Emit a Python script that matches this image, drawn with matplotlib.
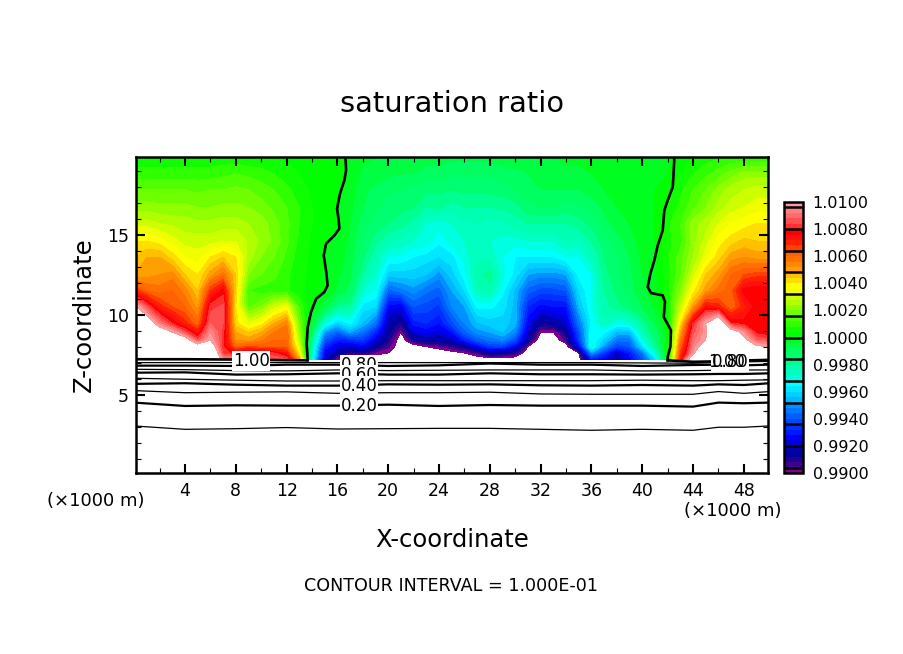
import numpy as np
import matplotlib
matplotlib.use("Agg")
import matplotlib.pyplot as plt
from matplotlib.colors import ListedColormap, BoundaryNorm

W, H = 904, 654

# model levels above cloud base (km), bottom to top
z_levels = [7.2, 7.6, 8.0, 8.4, 8.9, 9.45, 10.5, 11.5, 12.5, 13.6, 14.6, 15.7, 16.7, 17.8, 18.8, 19.85]

# saturation ratio, one column per km: (S - 1) * 1e4
col00 = [125,125,125,125,125,125,105,70,48,44,40,30,22,16,10,4]
col01 = [125,125,125,125,125,112,85,60,50,48,40,30,22,16,10,5]
col02 = [125,125,125,125,112,92,70,58,52,48,38,28,21,16,10,5]
col03 = [125,125,125,120,100,80,64,60,54,42,34,27,21,16,10,5]
col04 = [125,125,125,110,85,70,60,54,44,36,30,26,21,16,10,5]
col05 = [125,125,110,85,72,60,50,44,40,34,30,25,20,15,10,5]
col06 = [125,125,112,100,95,88,82,68,50,40,30,25,20,16,10,5]
col07 = [95,82,80,82,82,84,85,78,58,44,32,26,21,16,11,5]
col08 = [92,78,60,52,48,42,40,42,44,40,32,26,21,17,12,5]
col09 = [92,85,65,50,44,32,15,12,20,26,27,24,20,16,11,4]
col10 = [90,82,62,55,48,38,20,10,16,20,23,22,18,14,10,4]
col11 = [88,80,62,60,56,48,30,10,13,16,19,18,15,12,8,3]
col12 = [85,72,62,60,60,55,35,9,9,11,13,13,12,9,6,3]
col13 = [50,38,32,26,22,18,12,5,5,6,7,8,8,6,4,2]
col14 = [-30,-28,-24,-18,-12,-6,-1,2,3,3,3,4,4,3,2,1]
col15 = [-80,-75,-68,-60,-50,-30,-6,0,-1,0,1,3,2,2,1,1]
col16 = [-100,-85,-78,-70,-58,-42,-18,-5,-3,-2,-1,0,0,0,1,1]
col17 = [-105,-92,-80,-68,-48,-35,-20,-10,-7,-6,-5,-4,-3,-2,-1,0]
col18 = [-105,-90,-75,-65,-55,-45,-38,-28,-20,-15,-12,-10,-8,-7,-5,-3]
col19 = [-105,-98,-85,-78,-68,-55,-40,-32,-28,-24,-18,-14,-11,-9,-6,-4]
col20 = [-105,-100,-95,-90,-86,-84,-74,-58,-42,-32,-24,-16,-14,-11,-7,-4]
col21 = [-105,-105,-105,-105,-100,-90,-76,-54,-42,-33,-25,-18,-15,-12,-8,-5]
col22 = [-105,-105,-105,-90,-78,-70,-60,-50,-42,-36,-28,-22,-16,-13,-8,-5]
col23 = [-105,-105,-100,-85,-75,-68,-62,-55,-44,-38,-30,-28,-20,-15,-10,-6]
col24 = [-105,-105,-97,-85,-78,-72,-65,-58,-50,-40,-35,-30,-19,-15,-10,-6]
col25 = [-105,-103,-92,-82,-72,-62,-52,-48,-42,-38,-30,-28,-22,-16,-11,-7]
col26 = [-105,-100,-88,-70,-58,-52,-48,-40,-34,-30,-28,-25,-20,-15,-11,-7]
col27 = [-105,-95,-75,-60,-50,-45,-35,-25,-22,-25,-25,-24,-20,-15,-11,-7]
col28 = [-105,-85,-65,-55,-48,-42,-35,-22,-18,-25,-28,-26,-20,-15,-11,-7]
col29 = [-105,-88,-65,-52,-44,-42,-38,-35,-30,-32,-30,-25,-19,-14,-10,-6]
col30 = [-105,-92,-75,-62,-52,-46,-46,-45,-38,-36,-30,-22,-18,-12,-9,-6]
col31 = [-105,-105,-100,-88,-80,-75,-68,-58,-48,-36,-28,-20,-13,-10,-8,-5]
col32 = [-105,-105,-105,-105,-100,-88,-74,-62,-50,-36,-28,-20,-12,-8,-6,-4]
col33 = [-105,-105,-105,-105,-100,-85,-72,-62,-50,-36,-28,-20,-12,-8,-6,-4]
col34 = [-105,-105,-105,-95,-88,-80,-72,-60,-48,-32,-24,-20,-14,-8,-5,-3]
col35 = [-105,-100,-75,-65,-62,-55,-45,-40,-35,-32,-26,-18,-13,-8,-5,-3]
col36 = [-70,-50,-30,-32,-32,-35,-32,-32,-32,-25,-20,-15,-11,-6,-4,-2]
col37 = [-75,-65,-50,-42,-35,-25,-22,-20,-18,-16,-14,-10,-7,-4,-2,-2]
col38 = [-85,-80,-65,-55,-45,-32,-18,-15,-13,-12,-10,-6,-4,-2,-1,-1]
col39 = [-75,-70,-60,-55,-45,-30,-14,-10,-9,-8,-6,-4,-2,-1,-1,-1]
col40 = [-60,-55,-40,-32,-24,-20,-8,-5,-4,-3,-2,-2,-1,0,0,-1]
col41 = [-40,-30,-20,-15,-12,-8,-3,-2,-1,-1,0,0,0,0,0,-1]
col42 = [2,2,2,1,1,1,5,6,6,7,7,7,5,2,0,-1]
col43 = [70,65,60,55,48,40,28,20,15,14,10,12,9,7,4,2]
col44 = [115,96,92,90,85,80,50,38,30,24,22,22,15,12,8,4]
col45 = [125,125,110,100,98,100,74,50,44,34,30,26,20,16,11,6]
col46 = [125,125,125,125,125,120,70,58,50,42,38,32,26,22,14,7]
col47 = [125,125,125,125,110,80,60,62,60,50,42,36,30,26,18,8]
col48 = [125,125,125,105,95,78,70,78,64,52,45,38,32,28,22,8]
col49 = [125,125,102,88,78,78,78,80,66,50,44,40,34,30,22,8]
col50 = [125,125,100,85,76,76,80,80,66,50,44,40,34,30,22,8]

# heights (km) of the sub-saturated contours along the domain
x_stations = [0, 4, 8, 12, 16, 20, 24, 28, 32, 36, 40, 44, 46, 48, 50]
z_s01 = [3.04,2.83,2.87,2.94,2.85,2.87,2.89,2.89,2.83,2.77,2.83,2.77,2.96,2.96,3.04]
z_s02 = [4.50,4.29,4.33,4.31,4.31,4.37,4.29,4.35,4.31,4.31,4.31,4.25,4.50,4.46,4.50]
z_s03 = [5.25,5.12,5.15,5.17,5.08,5.12,5.12,5.15,5.04,5.02,5.02,5.02,5.19,5.08,5.19]
z_s04 = [5.67,5.71,5.62,5.56,5.56,5.64,5.62,5.64,5.58,5.56,5.60,5.56,5.64,5.60,5.71]
z_s05 = [6.02,5.96,5.90,5.85,5.85,5.87,5.87,5.87,5.87,5.87,5.90,5.87,5.87,5.90,5.92]
z_s06 = [6.37,6.39,6.25,6.27,6.33,6.25,6.25,6.33,6.27,6.27,6.25,6.27,6.29,6.29,6.33]
z_s07 = [6.58,6.56,6.50,6.48,6.54,6.50,6.52,6.54,6.54,6.54,6.48,6.50,6.52,6.54,6.54]
z_s08 = [6.81,6.81,6.79,6.87,6.87,6.79,6.83,6.94,6.87,6.87,6.79,6.85,6.87,6.83,6.87]
z_s09 = [7.00,7.00,7.00,7.00,7.00,7.00,7.00,7.00,7.00,7.00,6.98,6.96,7.00,7.04,7.08]

# the S = 1.00 contour
x_one_west = [0, 4, 8, 12, 13.6]
z_one_west = [7.21, 7.21, 7.19, 7.15, 7.14]
x_one_east = [42.0, 44, 46, 48, 50]
z_one_east = [7.14, 7.05, 7.08, 7.13, 7.17]
x_up_left = [16.63,16.68,16.55,16.2,15.97,16.1,16.15,15.76,15.1,14.92,15.1,15.23,14.97,14.32,13.92,13.66,13.58,13.66]
z_up_left = [19.85,19.02,18.4,17.56,16.62,15.89,15.37,14.95,14.43,13.7,12.77,11.83,11.41,10.99,10.16,9.22,8.18,7.14]
x_up_right = [42.53,42.45,42.4,42.0,41.74,41.61,41.22,40.95,40.64,40.43,40.69,41.61,41.79,41.69,42.26,42.21,42.0,42.0]
z_up_right = [19.85,18.6,17.97,17.14,16.52,15.27,14.33,13.39,12.56,11.72,11.35,11.2,10.79,9.85,9.02,7.98,7.35,7.14]

# colour table, bottom band to top band
band_colors = [
    "#800090",
    "#400090", "#200090", "#0000a0", "#0000b0",
    "#0000d8", "#0000ff", "#0018ff", "#0030ff",
    "#0048ff", "#0060ff", "#0078ff", "#0090ff",
    "#00b8ff", "#00d0ff", "#00e8ff", "#00ffff",
    "#00ffe0", "#00ffc0", "#00ffb0", "#00ff90",
    "#00ff70", "#00ff60", "#00ff40", "#00ff20",
    "#00ff00", "#10ff00", "#30ff00", "#50ff00",
    "#70ff00", "#90ff00", "#b0ff00", "#ccff00",
    "#f0ff00", "#ffff00", "#ffdd00", "#ffc000",
    "#ffa000", "#ff8800", "#ff7000", "#ff6000",
    "#ff4000", "#ff2000", "#ff1010", "#ff0000",
    "#ff3030", "#ff5050", "#ff6a6a", "#ff8080",
    "#ff9a9a",
]
cbar_ticks = [0.9900, 0.9920, 0.9940, 0.9960, 0.9980, 1.0000, 1.0020, 1.0040, 1.0060, 1.0080, 1.0100]
cbar_breaks = [0.9904, 0.9920, 0.9936, 0.9952, 0.9968, 0.9984, 1.0000, 1.0016, 1.0032, 1.0048, 1.0064, 1.0080, 1.0096]

columns = [col00, col01, col02, col03, col04, col05, col06, col07, col08, col09,
           col10, col11, col12, col13, col14, col15, col16, col17, col18, col19,
           col20, col21, col22, col23, col24, col25, col26, col27, col28, col29,
           col30, col31, col32, col33, col34, col35, col36, col37, col38, col39,
           col40, col41, col42, col43, col44, col45, col46, col47, col48, col49, col50]
ratio = 1 + np.array(columns).T * 1e-4
x_km = np.arange(len(columns))

levels = np.linspace(0.99, 1.01, 51)
cmap = ListedColormap(band_colors)
norm = BoundaryNorm(levels, cmap.N)

fig = plt.figure(figsize=(W / 100, H / 100), dpi=100)
ax = fig.add_axes([136 / W, 1 - 473 / H, (768 - 136) / W, (473 - 157) / H])

cf = ax.contourf(x_km, z_levels, ratio, levels=levels, cmap=cmap, norm=norm)

# contours, every other one heavier
thin = [z_s01, z_s03, z_s05, z_s07, z_s09]
thick = [z_s02, z_s04, z_s06, z_s08]
for z_line in thin:
    ax.plot(x_stations, z_line, color="black", lw=0.9)
for z_line in thick:
    ax.plot(x_stations, z_line, color="black", lw=1.6)
for xs, zs in [(x_one_west, z_one_west), (x_one_east, z_one_east),
               (x_up_left, z_up_left), (x_up_right, z_up_right)]:
    ax.plot(xs, zs, color="black", lw=1.9)

# contour labels; the two at the east end land on top of each other
labels = [("1.00", 9.2, 7.1), ("0.80", 17.7, 6.85), ("0.60", 17.7, 6.25),
          ("0.40", 17.7, 5.56), ("0.20", 17.7, 4.31), ("0.80", 46.9, 7.05)]
for txt, lx, lz in labels:
    ax.text(lx, lz, txt, fontsize=12, ha="center", va="center", color="black",
            bbox=dict(facecolor="white", edgecolor="none", pad=0.6), zorder=5)
ax.text(46.6, 7.05, "1.00", fontsize=12, ha="center", va="center", color="black", zorder=6)

ax.set_xlim(0.14, 49.9)
ax.set_ylim(0.1, 19.85)
ax.set_xticks(np.arange(4, 49, 4))
ax.set_xticks(np.arange(2, 50, 4), minor=True)
ax.set_yticks([5, 10, 15])
ax.set_yticks([z for z in range(1, 20) if z % 5], minor=True)
ax.tick_params(which="major", direction="in", top=True, right=True, length=6.5, width=1.5, labelsize=12.5)
ax.tick_params(which="minor", direction="in", top=True, right=True, length=3.5, width=0.8)
ax.tick_params(axis="x", which="major", pad=6.5)
ax.tick_params(axis="y", which="major", pad=5)
for spine in ax.spines.values():
    spine.set_linewidth(1.8)

# colour bar
cax = fig.add_axes([784 / W, 1 - 473 / H, (803 - 784) / W, (473 - 202) / H])
cb = fig.colorbar(cf, cax=cax, ticks=cbar_ticks, spacing="proportional", format="%.4f")
cb.ax.minorticks_off()
cb.ax.tick_params(length=0, pad=7, labelsize=11.5)
cb.outline.set_linewidth(1.8)
cb.ax.hlines(cbar_breaks, 0, 1, transform=cb.ax.get_yaxis_transform(), color="black", lw=1.8)

def px_text(x, y, s, **kw):
    fig.text(x / W, 1 - y / H, s, ha="center", va="center", **kw)

px_text(452, 104, "saturation ratio", fontsize=20.8)
px_text(84, 315, "Z-coordinate", fontsize=17.5, rotation=90)
px_text(452, 540, "X-coordinate", fontsize=17.5)
px_text(451, 586, "CONTOUR INTERVAL = 1.000E-01", fontsize=12.6)
px_text(96, 501, "(\u00d71000 m)", fontsize=13)
px_text(733, 511, "(\u00d71000 m)", fontsize=13)

fig.savefig("out.png", dpi=100)
